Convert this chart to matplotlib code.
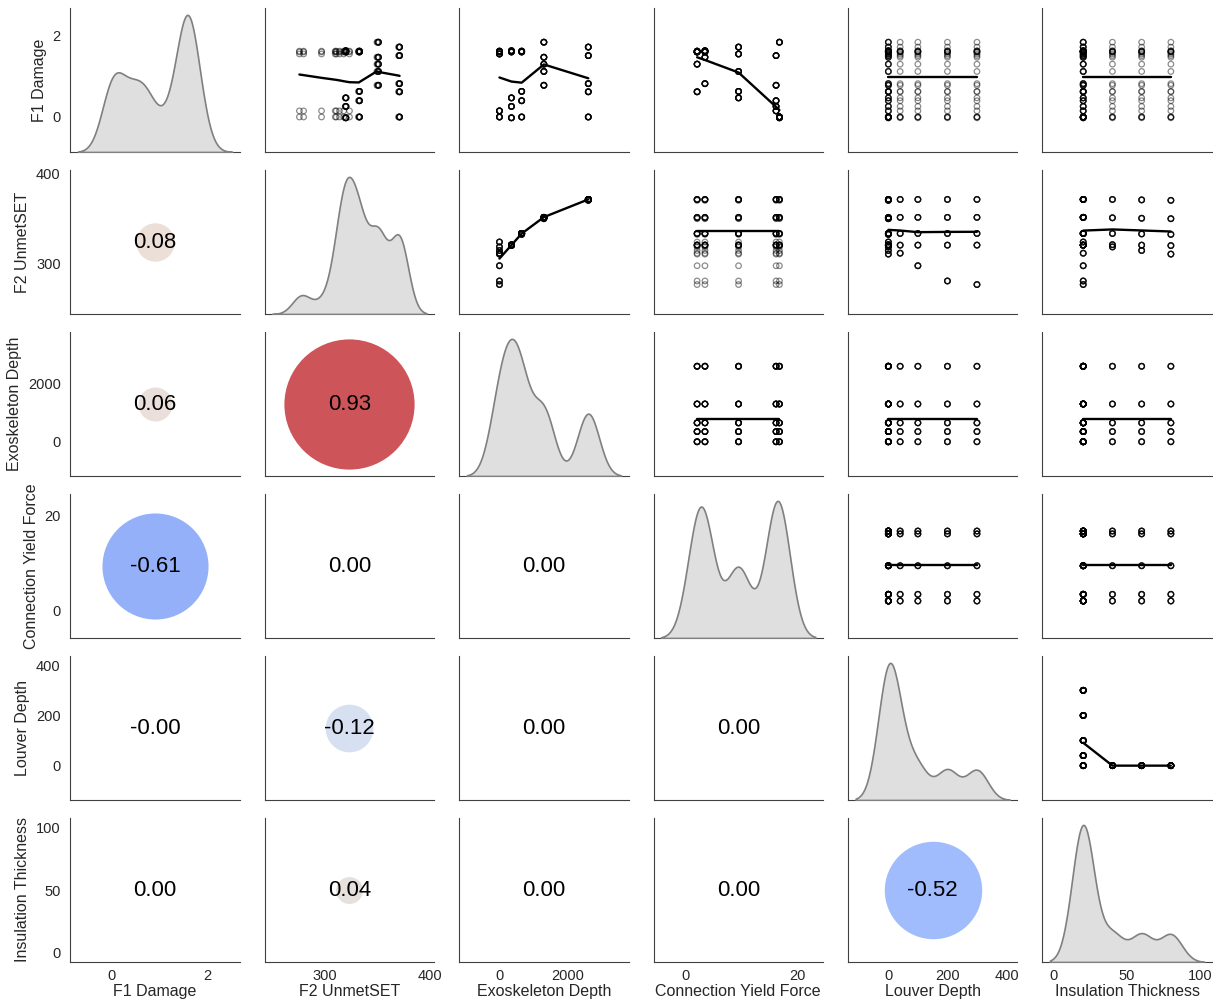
import numpy as np
import pandas as pd
import matplotlib
matplotlib.use('Agg')
import matplotlib.pyplot as plt
from matplotlib.ticker import MaxNLocator
import seaborn as sns

variables = ['F1 Damage', 'F2 UnmetSET', 'Exoskeleton Depth',
             'Connection Yield Force', 'Louver Depth', 'Insulation Thickness']

# design levels
exo_levels = [0, 350, 650, 1300, 2600]
cyf_levels = [2.1, 3.5, 9.5, 16.2, 16.8]
# louver / insulation combinations that were run
louver_levels = [0, 40, 100, 200, 300, 0, 0, 0]
insulation_levels = [20, 20, 20, 20, 20, 40, 60, 80]

# F1 Damage: rows = exoskeleton depth, cols = connection yield force
f1_table = [
    [1.62, 1.60, 1.55, 0.15, 0.00],
    [1.60, 1.63, 0.47, 0.26, -0.02],
    [1.60, 1.62, 0.63, 0.40, 0.00],
    [1.30, 1.47, 1.12, 0.78, 1.84],
    [0.62, 0.82, 1.72, 1.51, 0.00],
]

# F2 UnmetSET: rows = exoskeleton depth, cols = louver/insulation combination
f2_table = [
    [323.5, 311, 297, 280, 276, 318, 314, 310],
    [320, 320, 320, 320, 320, 320.5, 320, 319.5],
    [333, 333, 333, 333, 333, 333, 332.5, 332],
    [351, 351, 351, 351, 351, 350.5, 350, 349.5],
    [371, 371, 371, 371, 371, 371, 370.5, 370],
]


def build_table():
    rows = []
    for k in range(len(louver_levels)):
        for i, exo in enumerate(exo_levels):
            for j, cyf in enumerate(cyf_levels):
                rows.append([f1_table[i][j], f2_table[i][k], exo, cyf,
                             louver_levels[k], insulation_levels[k]])
    return pd.DataFrame(rows, columns=variables)


def lowess(x, y, frac=2 / 3, iters=3):
    # locally weighted linear fit, evaluated at the distinct x values
    x = np.asarray(x, float)
    y = np.asarray(y, float)
    n = len(x)
    k = int(np.ceil(frac * n))
    xu = np.unique(x)
    robust = np.ones(n)
    fit_u = np.zeros(len(xu))
    for it in range(iters + 1):
        for m, x0 in enumerate(xu):
            d = np.abs(x - x0)
            h = np.sort(d)[k - 1]
            if h <= 0:
                h = d.max() if d.max() > 0 else 1.0
            w = np.clip(1 - (d / h) ** 3, 0, None) ** 3 * robust
            sw = w.sum()
            if sw <= 0:
                fit_u[m] = y[d == 0].mean()
                continue
            xm = (w * x).sum() / sw
            ym = (w * y).sum() / sw
            var = (w * (x - xm) ** 2).sum()
            b = (w * (x - xm) * (y - ym)).sum() / var if var > 1e-12 else 0.0
            fit_u[m] = ym + b * (x0 - xm)
        if it < iters:
            fitted = fit_u[np.searchsorted(xu, x)]
            res = y - fitted
            s = np.median(np.abs(res))
            if s < 1e-12:
                break
            robust = np.clip(1 - (res / (6 * s)) ** 2, 0, None) ** 2
    return xu, fit_u


def main():
    df = build_table()

    sns.set_style('white')
    plt.rcParams['font.family'] = ['Liberation Sans', 'DejaVu Sans']
    plt.rcParams['axes.edgecolor'] = '.25'

    nv = len(variables)
    fig, axes = plt.subplots(nv, nv, figsize=(12.13, 10), dpi=100,
                             sharex='col', sharey='row')
    fig.subplots_adjust(left=0.058, right=0.999, bottom=0.038, top=0.992,
                        wspace=0.147, hspace=0.125)

    steps = [1, 2, 2.5, 5, 10]
    for i, yv in enumerate(variables):
        for j, xv in enumerate(variables):
            ax = axes[i, j]
            if i == j:
                tw = ax.twinx()
                sns.kdeplot(x=df[xv], ax=tw, fill=True, color='grey', linewidth=1.2)
                tw.set_axis_off()
            elif i < j:
                ax.scatter(df[xv], df[yv], s=16, facecolors='none',
                           edgecolors='black', linewidths=0.9, alpha=0.45)
                lx, ly = lowess(df[xv].values, df[yv].values)
                ax.plot(lx, ly, color='black', lw=1.7)
            else:
                r = df[xv].corr(df[yv], 'pearson')
                ax.scatter([.5], [.5], s=abs(r) * 9500, c=[r], cmap='coolwarm',
                           vmin=-1, vmax=1, alpha=0.8, linewidths=0,
                           transform=ax.transAxes)
                ax.annotate(f'{r:.2f}', [.5, .5], xycoords='axes fraction',
                            ha='center', va='center', fontsize=16, color='black')
            sns.despine(ax=ax)
            ax.xaxis.set_major_locator(MaxNLocator(3, steps=steps))
            ax.yaxis.set_major_locator(MaxNLocator(3, steps=steps))
            ax.tick_params(left=False, bottom=False, right=False, top=False,
                           labelsize=10.5, labelcolor='.15')
            ax.tick_params(axis='x', pad=1.5)
            if j == 0:
                ax.set_ylabel(yv, fontsize=11.5, color='.15')
            if i == nv - 1:
                ax.set_xlabel(xv, fontsize=11.5, color='.15', labelpad=1)

    # each row uses the same range as its column
    for i in range(nv):
        lim = axes[0, i].get_xlim()
        axes[i, 0].set_ylim(lim)

    plt.savefig('out.png', dpi=100)
    plt.close()


if __name__ == '__main__':
    main()
